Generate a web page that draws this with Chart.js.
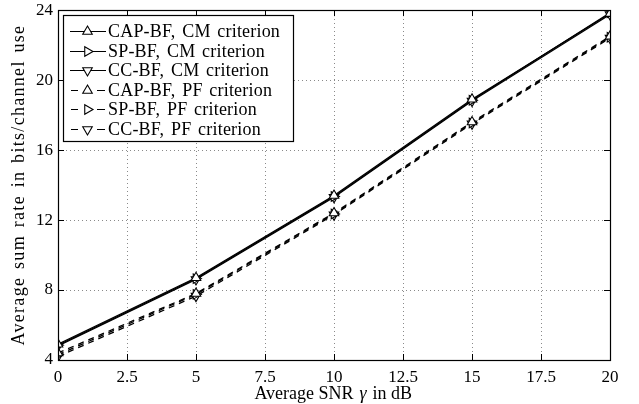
<!DOCTYPE html>
<html><head><meta charset="utf-8">
<script src="https://cdn.jsdelivr.net/npm/chart.js@4/dist/chart.umd.min.js"></script>
<style>html,body{margin:0;padding:0;background:#fff;}#wrap{width:639px;height:404px;}</style>
</head><body><div id="wrap"><canvas id="c" width="639" height="404"></canvas></div>
<script>
const snrDb = [0, 5, 10, 15, 20];
const capCM = [4.9, 8.7, 13.4, 18.9, 23.8];
const spCM  = [4.85, 8.65, 13.35, 18.85, 23.85];
const ccCM  = [4.8, 8.6, 13.3, 18.8, 23.75];
const capPF = [4.4, 7.8, 12.4, 17.6, 22.5];
const spPF  = [4.3, 7.75, 12.35, 17.55, 22.45];
const ccPF  = [4.2, 7.65, 12.3, 17.5, 22.4];
const xTicks = [0, 2.5, 5, 7.5, 10, 12.5, 15, 17.5, 20];
const yTicks = [4, 8, 12, 16, 20, 24];
const seriesLabels = ['CAP-BF, CM criterion','SP-BF, CM criterion','CC-BF, CM criterion','CAP-BF, PF criterion','SP-BF, PF criterion','CC-BF, PF criterion'];

const FONT = "'Liberation Serif', 'Times New Roman', serif";
const rot = [0, 90, 180, 0, 90, 180];
const vals = [capCM, spCM, ccCM, capPF, spPF, ccPF];
const DASH = [6, 5];
const datasets = vals.map((v, i) => ({
  label: seriesLabels[i],
  data: v.map((y, k) => ({x: snrDb[k], y})),
  borderColor: '#000',
  borderWidth: 1.3,
  borderDash: i < 3 ? [] : DASH,
  pointStyle: 'triangle',
  pointRotation: rot[i],
  pointRadius: 5.5,
  pointBorderWidth: 1.1,
  pointBackgroundColor: '#fff',
  pointBorderColor: '#000',
  fill: false,
  tension: 0
}));

function spacedText(ctx, text, x, y, font, ls, ws) {
  ctx.font = font;
  if ('letterSpacing' in ctx) { ctx.letterSpacing = ls + 'px'; ctx.wordSpacing = ws + 'px'; }
  ctx.fillText(text, x, y);
  if ('letterSpacing' in ctx) { ctx.letterSpacing = '0px'; ctx.wordSpacing = '0px'; }
}

const grid = {
  id: 'dotgrid',
  beforeDatasetsDraw(chart) {
    const ctx = chart.ctx, a = chart.chartArea;
    const xs = chart.scales.x, ys = chart.scales.y;
    ctx.save();
    ctx.strokeStyle = '#8a8a8a'; ctx.lineWidth = 1; ctx.setLineDash([1, 3]);
    xTicks.forEach(t => {
      const px = Math.round(xs.getPixelForValue(t)) + 0.5;
      ctx.beginPath(); ctx.moveTo(px, a.bottom); ctx.lineTo(px, a.top); ctx.stroke();
    });
    yTicks.forEach(t => {
      const py = Math.round(ys.getPixelForValue(t)) + 0.5;
      ctx.beginPath(); ctx.moveTo(a.left, py); ctx.lineTo(a.right, py); ctx.stroke();
    });
    ctx.restore();
  }
};

const frame = {
  id: 'frame',
  afterDraw(chart) {
    const ctx = chart.ctx, a = chart.chartArea;
    const xs = chart.scales.x, ys = chart.scales.y;
    ctx.save();
    ctx.strokeStyle = '#000'; ctx.lineWidth = 1.2; ctx.setLineDash([]);
    ctx.strokeRect(Math.round(a.left)+0.5, Math.round(a.top)+0.5, Math.round(a.right-a.left), Math.round(a.bottom-a.top));
    ctx.lineWidth = 1;
    const tl = 6;
    xTicks.forEach(t => {
      const px = Math.round(xs.getPixelForValue(t)) + 0.5;
      ctx.beginPath(); ctx.moveTo(px, a.bottom); ctx.lineTo(px, a.bottom - tl);
      ctx.moveTo(px, a.top); ctx.lineTo(px, a.top + tl); ctx.stroke();
    });
    yTicks.forEach(t => {
      const py = Math.round(ys.getPixelForValue(t)) + 0.5;
      ctx.beginPath(); ctx.moveTo(a.left, py); ctx.lineTo(a.left + tl, py);
      ctx.moveTo(a.right, py); ctx.lineTo(a.right - tl, py); ctx.stroke();
    });
    // x title with italic gamma
    ctx.fillStyle = '#000'; ctx.textBaseline = 'alphabetic'; ctx.textAlign = 'left';
    const parts = [['Average SNR ', ''], ['γ', 'italic '], [' in dB', '']];
    let w = 0;
    parts.forEach(p => { ctx.font = p[1] + '18px ' + FONT; w += ctx.measureText(p[0]).width + 1.5; });
    let x = (a.left + a.right) / 2 - w / 2;
    parts.forEach(p => { ctx.font = p[1] + '18px ' + FONT; ctx.fillText(p[0], x, 399); x += ctx.measureText(p[0]).width + 1.5; });
    // y title
    ctx.save();
    ctx.translate(24, (a.top + a.bottom) / 2);
    ctx.rotate(-Math.PI / 2);
    ctx.textAlign = 'center';
    spacedText(ctx, 'Average sum rate in bits/channel use', 0, 0, '18px ' + FONT, 1.3, 2);
    ctx.restore();
    // legend
    const bx = Math.round(a.left) + 5, by = Math.round(a.top) + 5, bw = 230, bh = 126;
    ctx.fillStyle = '#fff'; ctx.fillRect(bx, by, bw, bh);
    ctx.strokeStyle = '#000'; ctx.lineWidth = 1.2;
    ctx.strokeRect(bx + 0.5, by + 0.5, bw, bh);
    chart.data.datasets.forEach((ds, i) => {
      const yy = Math.round(by + 16 + i * 19.6) + 0.5;
      ctx.save();
      ctx.strokeStyle = '#000';
      ctx.lineWidth = 1.2;
      if (i < 3) {
        ctx.beginPath(); ctx.moveTo(bx + 7, yy); ctx.lineTo(bx + 43, yy); ctx.stroke();
      } else {
        ctx.beginPath(); ctx.moveTo(bx + 8, yy); ctx.lineTo(bx + 15, yy);
        ctx.moveTo(bx + 34, yy); ctx.lineTo(bx + 42, yy); ctx.stroke();
      }
      ctx.fillStyle = '#fff';
      ctx.lineWidth = 1.1;
      Chart.helpers.drawPoint(ctx, {pointStyle: 'triangle', rotation: rot[i], radius: 5.5, borderWidth: 1.1}, bx + 24.5, yy);
      ctx.restore();
      ctx.fillStyle = '#000'; ctx.textBaseline = 'middle'; ctx.textAlign = 'left';
      spacedText(ctx, ds.label, bx + 45, yy + 1, '18px ' + FONT, 0.2, 2);
    });
    ctx.restore();
  }
};

new Chart(document.getElementById('c'), {
  type: 'line',
  data: { datasets },
  options: {
    responsive: false, animation: false,
    layout: { padding: { top: 4, right: 29, left: 0, bottom: 0 } },
    plugins: { legend: { display: false }, tooltip: { enabled: false } },
    scales: {
      x: {
        type: 'linear', min: 0, max: 20,
        afterBuildTicks: s => { s.ticks = xTicks.map(v => ({value: v})); },
        afterFit: s => { s.height = 44; },
        grid: { display: false, drawTicks: false },
        border: { display: false },
        ticks: { color: '#000', font: { family: FONT, size: 17 }, padding: 7, maxRotation: 0,
                 callback: v => String(v) }
      },
      y: {
        type: 'linear', min: 4, max: 24,
        afterBuildTicks: s => { s.ticks = yTicks.map(v => ({value: v})); },
        afterFit: s => { s.width = 58; },
        grid: { display: false, drawTicks: false },
        border: { display: false },
        ticks: { color: '#000', font: { family: FONT, size: 17, lineHeight: 0.6 }, padding: 5,
                 callback: v => String(v) }
      }
    }
  },
  plugins: [grid, frame]
});
</script></body></html>
